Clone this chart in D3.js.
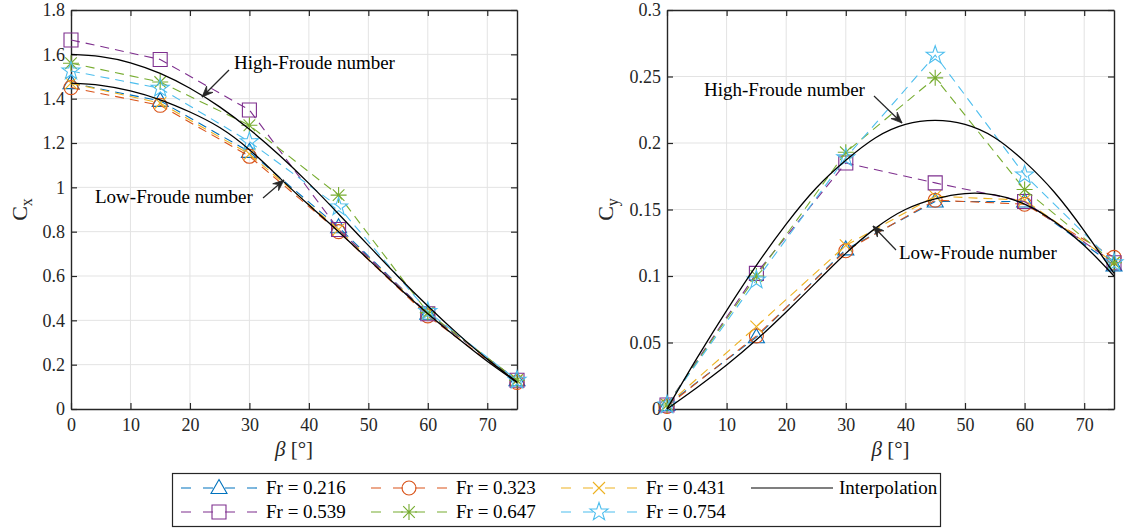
<!DOCTYPE html>
<html>
<head>
<meta charset="utf-8">
<script src="https://cdn.jsdelivr.net/npm/d3@7"></script>
<style>
  html, body { margin: 0; padding: 0; background: #fff; }
  svg { display: block; font-family: "Liberation Serif", "Times New Roman", serif; }
</style>
</head>
<body>
<svg id="chart" width="1126" height="532"></svg>
<script>
// Sideslip angle (deg) at which the coefficients were measured
const betaDeg = [0, 15, 30, 45, 60, 75];

// Froude numbers of the six test series
const froudeLabels = ["Fr = 0.216", "Fr = 0.323", "Fr = 0.431", "Fr = 0.539", "Fr = 0.647", "Fr = 0.754"];
const seriesColors = ["#0072BD", "#D95319", "#EDB120", "#7E2F8E", "#77AC30", "#4DBEEE"];
const seriesMarkers = ["triangle", "circle", "x", "square", "asterisk", "star"];

// Longitudinal force coefficient Cx per Froude number
const cx216 = [1.47, 1.39, 1.16, 0.82, 0.43, 0.13];
const cx323 = [1.45, 1.37, 1.14, 0.80, 0.42, 0.12];
const cx431 = [1.47, 1.38, 1.15, 0.81, 0.43, 0.13];
const cx539 = [1.665, 1.577, 1.349, 0.81, 0.43, 0.13];
const cx647 = [1.56, 1.475, 1.28, 0.965, 0.435, 0.13];
const cx754 = [1.525, 1.447, 1.206, 0.912, 0.44, 0.13];

// Lateral force coefficient Cy per Froude number
const cy216 = [0.003, 0.054, 0.120, 0.156, 0.156, 0.108];
const cy323 = [0.002, 0.055, 0.119, 0.157, 0.154, 0.114];
const cy431 = [0.003, 0.062, 0.123, 0.160, 0.157, 0.110];
const cy539 = [0.003, 0.102, 0.185, 0.170, 0.156, 0.110];
const cy647 = [0.003, 0.100, 0.193, 0.249, 0.165, 0.110];
const cy754 = [0.003, 0.097, 0.189, 0.266, 0.176, 0.110];

// Fitted interpolation curves, sampled every 5 deg
const interpBeta = [0, 5, 10, 15, 20, 25, 30, 35, 40, 45, 50, 55, 60, 65, 70, 75];
const cxHigh = [1.600, 1.590, 1.562, 1.514, 1.447, 1.363, 1.262, 1.146, 1.018, 0.880, 0.738, 0.598, 0.465, 0.340, 0.225, 0.122];
const cxLow  = [1.470, 1.460, 1.435, 1.395, 1.340, 1.270, 1.170, 1.045, 0.920, 0.800, 0.675, 0.550, 0.430, 0.320, 0.215, 0.120];
const cyHigh = [0.000, 0.038, 0.074, 0.108, 0.139, 0.166, 0.187, 0.204, 0.214, 0.217, 0.214, 0.204, 0.186, 0.163, 0.134, 0.102];
const cyLow  = [0.000, 0.016, 0.033, 0.052, 0.073, 0.095, 0.117, 0.136, 0.150, 0.158, 0.162, 0.161, 0.154, 0.141, 0.123, 0.100];

// Axis ticks
const xTicks = [0, 10, 20, 30, 40, 50, 60, 70];
const cxTicks = [0, 0.2, 0.4, 0.6, 0.8, 1, 1.2, 1.4, 1.6, 1.8];
const cyTicks = [0, 0.05, 0.1, 0.15, 0.2, 0.25, 0.3];

const cxSeries = [cx216, cx323, cx431, cx539, cx647, cx754];
const cySeries = [cy216, cy323, cy431, cy539, cy647, cy754];

const svg = d3.select("#chart");
const SERIF = '"Liberation Serif", "Times New Roman", serif';
const AXIS_COLOR = "#262626";
const GRID_COLOR = "#e3e3e3";
const FONT_TICK = 18;

// Marker path generators (centred at 0,0)
function markerPath(type) {
  switch (type) {
    case "triangle": return "M0,-8.5L8,5.5L-8,5.5Z";
    case "circle": return "M7,0A7,7 0 1,1 -7,0A7,7 0 1,1 7,0Z";
    case "square": return "M-7,-7L7,-7L7,7L-7,7Z";
    case "x": return "M-6,-6L6,6M-6,6L6,-6";
    case "asterisk": return "M-8,0L8,0M0,-8L0,8M-5.8,-5.8L5.8,5.8M-5.8,5.8L5.8,-5.8";
    case "star": {
      const pts = [];
      for (let i = 0; i < 10; i++) {
        const r = i % 2 === 0 ? 9.5 : 3.8;
        const a = -Math.PI / 2 + i * Math.PI / 5;
        pts.push([r * Math.cos(a), r * Math.sin(a)]);
      }
      return "M" + pts.map(p => p[0].toFixed(2) + "," + p[1].toFixed(2)).join("L") + "Z";
    }
  }
  return "";
}

function drawMarker(g, type, x, y, color) {
  g.append("path")
    .attr("d", markerPath(type))
    .attr("transform", `translate(${x},${y})`)
    .attr("fill", "none")
    .attr("stroke", color)
    .attr("stroke-width", 1.1);
}

function drawArrow(g, x1, y1, x2, y2) {
  g.append("line")
    .attr("x1", x1).attr("y1", y1).attr("x2", x2).attr("y2", y2)
    .attr("stroke", AXIS_COLOR).attr("stroke-width", 1.2);
  const ang = Math.atan2(y2 - y1, x2 - x1);
  const L = 11, Wd = 4.5, back = 7;
  const ca = Math.cos(ang), sa = Math.sin(ang);
  const p = (a, b) => [x2 + a * ca - b * sa, y2 + a * sa + b * ca];
  const pts = [p(0, 0), p(-L, Wd), p(-back, 0), p(-L, -Wd)];
  g.append("path")
    .attr("d", "M" + pts.map(q => q.join(",")).join("L") + "Z")
    .attr("fill", AXIS_COLOR).attr("stroke", AXIS_COLOR).attr("stroke-width", 0.8);
}

function drawPanel(opts) {
  const { x0, x1, y0, y1, yMax, yTicks, series, interpHigh, interpLow, yFmt, sub, labelX, notes } = opts;
  const x = d3.scaleLinear().domain([0, 75]).range([x0, x1]);
  const y = d3.scaleLinear().domain([0, yMax]).range([y1, y0]);
  const g = svg.append("g");

  // grid
  g.append("g").selectAll("line").data(xTicks.filter(t => t > 0)).join("line")
    .attr("x1", d => x(d)).attr("x2", d => x(d)).attr("y1", y0).attr("y2", y1)
    .attr("stroke", GRID_COLOR).attr("stroke-width", 1);
  g.append("g").selectAll("line").data(yTicks.filter(t => t > 0 && t < yMax)).join("line")
    .attr("x1", x0).attr("x2", x1).attr("y1", d => y(d)).attr("y2", d => y(d))
    .attr("stroke", GRID_COLOR).attr("stroke-width", 1);

  // axes (ticks pointing inward, box on)
  const ax = d3.axisBottom(x).tickValues(xTicks).tickSize(-6).tickSizeOuter(0).tickPadding(9);
  const axT = d3.axisTop(x).tickValues(xTicks).tickSize(-6).tickSizeOuter(0).tickFormat("");
  const ay = d3.axisLeft(y).tickValues(yTicks).tickSize(-6).tickSizeOuter(0).tickPadding(6).tickFormat(yFmt);
  const ayR = d3.axisRight(y).tickValues(yTicks).tickSize(-6).tickSizeOuter(0).tickFormat("");

  const styleAxis = sel => {
    sel.attr("font-family", SERIF).attr("font-size", FONT_TICK);
    sel.selectAll("path").attr("stroke", AXIS_COLOR).attr("stroke-width", 1.4);
    sel.selectAll("line").attr("stroke", AXIS_COLOR).attr("stroke-width", 1.2);
    sel.selectAll("text").attr("fill", AXIS_COLOR)
      .style("font-family", SERIF)
      .style("font-size", FONT_TICK + "px");
  };
  g.append("g").attr("transform", `translate(0,${y1})`).call(ax).call(styleAxis);
  g.append("g").attr("transform", `translate(0,${y0})`).call(axT).call(styleAxis);
  g.append("g").attr("transform", `translate(${x0},0)`).call(ay).call(styleAxis);
  g.append("g").attr("transform", `translate(${x1},0)`).call(ayR).call(styleAxis);

  // measured series: dashed lines with markers
  const line = d3.line().x((d, i) => x(betaDeg[i])).y(d => y(d));
  series.forEach((vals, k) => {
    g.append("path").attr("d", line(vals))
      .attr("fill", "none").attr("stroke", seriesColors[k]).attr("stroke-width", 1.1)
      .attr("stroke-dasharray", "9,6");
    vals.forEach((v, i) => drawMarker(g, seriesMarkers[k], x(betaDeg[i]), y(v), seriesColors[k]));
  });

  // interpolation curves
  const curve = d3.line().x((d, i) => x(interpBeta[i])).y(d => y(d)).curve(d3.curveNatural);
  [interpHigh, interpLow].forEach(vals => {
    g.append("path").attr("d", curve(vals))
      .attr("fill", "none").attr("stroke", "#000").attr("stroke-width", 1.3);
  });

  // axis labels
  const xl = g.append("text").attr("x", (x0 + x1) / 2).attr("y", 456)
    .attr("text-anchor", "middle").attr("fill", AXIS_COLOR)
    .style("font-family", SERIF).style("font-size", "21px");
  xl.append("tspan").attr("font-style", "italic").text("β");
  xl.append("tspan").text(" [°]");

  const yl = g.append("text")
    .attr("transform", `translate(${labelX},${(y0 + y1) / 2}) rotate(-90)`)
    .attr("text-anchor", "middle").attr("fill", AXIS_COLOR)
    .style("font-family", SERIF).style("font-size", "22px");
  yl.append("tspan").text("C");
  yl.append("tspan").attr("dy", 5).style("font-size", "16px").text(sub);

  // annotations
  notes.forEach(n => {
    g.append("text").attr("x", n.tx).attr("y", n.ty).attr("fill", "#000")
      .style("font-family", SERIF).style("font-size", "19px").text(n.text);
    drawArrow(g, n.a[0], n.a[1], n.a[2], n.a[3]);
  });
}

const fmtCx = d => d === 0 ? "0" : (d === 1 ? "1" : d3.format(".1f")(d));
const fmtCy = d => d === 0 ? "0" : String(+d.toFixed(2));

drawPanel({
  x0: 71, x1: 517, y0: 10, y1: 409, yMax: 1.8, yTicks: cxTicks,
  series: cxSeries, interpHigh: cxHigh, interpLow: cxLow, yFmt: fmtCx, sub: "x", labelX: 27,
  notes: [
    { text: "High-Froude number", tx: 234, ty: 69, a: [229, 70, 202, 97] },
    { text: "Low-Froude number", tx: 95, ty: 203, a: [263, 198, 284, 180] }
  ]
});

drawPanel({
  x0: 667, x1: 1114, y0: 10, y1: 409, yMax: 0.3, yTicks: cyTicks,
  series: cySeries, interpHigh: cyHigh, interpLow: cyLow, yFmt: fmtCy, sub: "y", labelX: 613,
  notes: [
    { text: "High-Froude number", tx: 704, ty: 96, a: [874, 96, 902, 123] },
    { text: "Low-Froude number", tx: 899, ty: 259, a: [896, 250, 873, 226] }
  ]
});

// legend
const lg = svg.append("g").style("font-family", SERIF);
lg.append("rect").attr("x", 172.5).attr("y", 473.5).attr("width", 768).attr("height", 53)
  .attr("fill", "#fff").attr("stroke", AXIS_COLOR).attr("stroke-width", 1.2);
const colX = [181, 371, 561];
froudeLabels.forEach((lab, k) => {
  const cx0 = colX[k % 3];
  const ry = k < 3 ? 488 : 512;
  lg.append("line").attr("x1", cx0).attr("x2", cx0 + 76).attr("y1", ry).attr("y2", ry)
    .attr("stroke", seriesColors[k]).attr("stroke-width", 1.1).attr("stroke-dasharray", "10,12");
  drawMarker(lg, seriesMarkers[k], cx0 + 38, ry, seriesColors[k]);
  lg.append("text").attr("x", cx0 + 85).attr("y", ry + 6).attr("fill", "#000")
    .style("font-size", "19px").text(lab);
});
lg.append("line").attr("x1", 751).attr("x2", 833).attr("y1", 488).attr("y2", 488)
  .attr("stroke", "#000").attr("stroke-width", 1.2);
lg.append("text").attr("x", 839).attr("y", 494).attr("fill", "#000")
  .style("font-size", "19px").text("Interpolation");
</script>
</body>
</html>
